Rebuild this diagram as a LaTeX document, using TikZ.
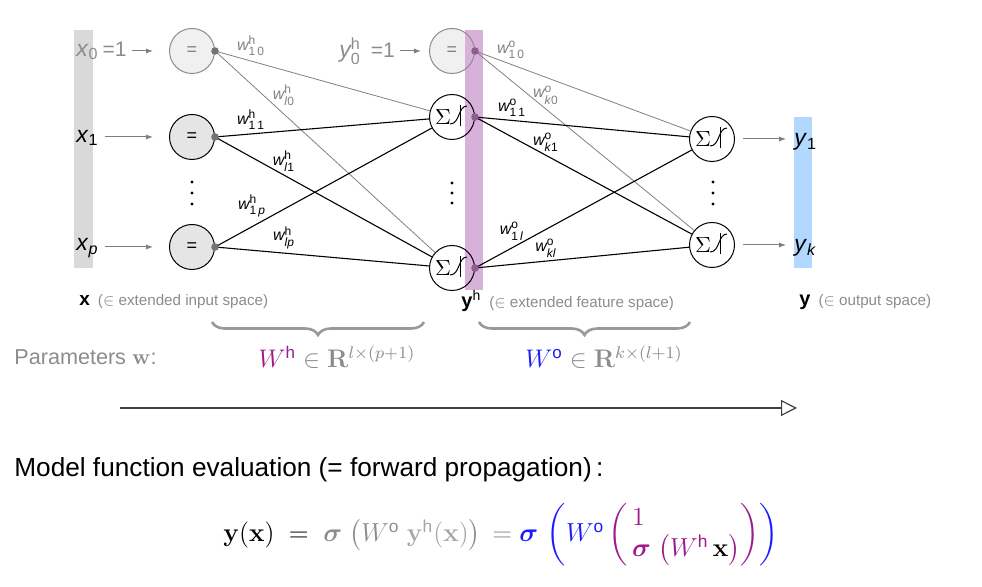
\documentclass[tikz,border=0pt]{standalone}
\usepackage{amsmath}
\usepackage{graphicx}
\usepackage[no-math]{fontspec}
\setmainfont{Liberation Sans}
\usetikzlibrary{arrows.meta,decorations.pathreplacing}
\definecolor{barg}{HTML}{D9D9D9}
\definecolor{barp}{HTML}{D8B1DA}
\definecolor{barb}{HTML}{B3D8FF}
\definecolor{txtg}{HTML}{8C8C8C}
\definecolor{hdot}{HTML}{8C5E8C}
\definecolor{mpurple}{HTML}{9C1A8C}
\definecolor{mblue}{HTML}{1A1AFF}
\newcommand\wlab[2]{$\textit{w}^{\text{\fontsize{6}{6}\selectfont #1}}_{\text{\fontsize{6}{6}\selectfont #2}}$}
\newcommand\sigsym{$\Sigma$\kern9pt}
\begin{document}
\begin{tikzpicture}[x=0.5pt,y=-0.5pt,
  inpnode/.style={circle,draw=black,line width=0.5pt,fill=black!10,minimum size=22.5pt,inner sep=0pt,font=\fontsize{9}{9}\selectfont},
  biasnode/.style={circle,draw=black!45,line width=0.5pt,fill=black!6,text=black!50,minimum size=22.5pt,inner sep=0pt,font=\fontsize{9}{9}\selectfont},
  signode/.style={circle,draw=black,line width=0.5pt,minimum size=22.5pt,inner sep=0pt,font=\fontsize{11}{11}\selectfont,
    path picture={
      \draw[line width=0.5pt] ([shift={(8,-12)}]path picture bounding box.center) -- ([shift={(8,9)}]path picture bounding box.center);
      \draw[line width=0.5pt] ([shift={(-2,7)}]path picture bounding box.center) .. controls ([shift={(8,7)}]path picture bounding box.center) and ([shift={(6,-11)}]path picture bounding box.center) .. ([shift={(15,-11)}]path picture bounding box.center);
    }},
  lab/.style={inner sep=0pt,font=\fontsize{11.5}{12}\selectfont},
  wt/.style={inner sep=0pt,font=\fontsize{8}{8}\selectfont},
  wtg/.style={wt,text=black!50},
  bedge/.style={draw=black,line width=0.55pt},
  gedge/.style={draw=black!50,line width=0.4pt},
  garrow/.style={draw=black!50,line width=0.5pt,-{Latex[length=3.5pt,width=2.6pt]}},
  brc/.style={draw=black!40,line width=1.3pt,decorate,decoration={brace,amplitude=6.5pt}},
]
\useasboundingbox (0,0) rectangle (982,587);
% bars and bias fill
\fill[barg] (74,30) rectangle (93,268);
\fill[barb] (794,117) rectangle (812,268);
\fill[black!6] (452,51) circle (11.25pt);
\fill[barp] (465,30) rectangle (483,290);
% input layer
\node[biasnode] (in0) at (192,51) {=};
\node[inpnode] (in1) at (192,137) {=};
\node[inpnode] (inp) at (192,247) {=};
\foreach \yy in {182,193,204} \fill (192,\yy) circle (0.8pt);
% hidden layer
\node[biasnode,fill=none] (h0) at (452,51) {=};
\node[signode] (h1) at (452,117) {\sigsym};
\node[signode] (hl) at (452,268) {\sigsym};
\foreach \yy in {183,193,203} \fill (452,\yy) circle (0.8pt);
% output layer
\node[signode] (o1) at (712,139) {\sigsym};
\node[signode] (ok) at (712,245) {\sigsym};
\foreach \yy in {182,193,204} \fill (713,\yy) circle (0.8pt);
% dots
\coordinate (d0) at (in0.east);
\coordinate (d1) at (in1.east);
\coordinate (dp) at (inp.east);
\coordinate (e0) at (h0.east);
\coordinate (e1) at (h1.east);
\coordinate (el) at (hl.east);
% edges input->hidden
\draw[gedge] (d0) -- (h1);
\draw[gedge] (d0) -- (hl);
\draw[bedge] (d1) -- (h1);
\draw[bedge] (d1) -- (hl);
\draw[bedge] (dp) -- (h1);
\draw[bedge] (dp) -- (hl);
% edges hidden->output
\draw[gedge] (e0) -- (o1);
\draw[gedge] (e0) -- (ok);
\draw[bedge] (e1) -- (o1);
\draw[bedge] (e1) -- (ok);
\draw[bedge] (el) -- (o1);
\draw[bedge] (el) -- (ok);
\foreach \d in {d0,d1,dp} \fill[black!55] (\d) circle (1.9pt);
\foreach \d in {e0,e1,el} \fill[hdot] (\d) circle (1.9pt);
% weight labels
\node[wtg] (w10h) at (251,46) {\wlab{h}{1\,0}};
\node[wtg] (wl0h) at (284,95) {\wlab{h}{\textit{l}0}};
\node[wt] (w11h) at (251,120) {\wlab{h}{1\,1}};
\node[wt] (wl1h) at (284,161) {\wlab{h}{\textit{l}1}};
\node[wt] (w1ph) at (252,206) {\wlab{h}{1\,\textit{p}}};
\node[wt] (wlph) at (284,238) {\wlab{h}{\textit{lp}}};
\node[wtg] (w10o) at (511,50) {\wlab{o}{1\,0}};
\node[wtg] (wk0o) at (546,95) {\wlab{o}{\textit{k}0}};
\node[wt] (w11o) at (512,108) {\wlab{o}{1\,1}};
\node[wt] (wk1o) at (546,142) {\wlab{o}{\textit{k}1}};
\node[wt] (w1lo) at (512,231) {\wlab{o}{1\,\textit{l}}};
\node[wt] (wklo) at (546,248) {\wlab{o}{\textit{kl}}};
% input labels and arrows
\node[lab,text=txtg,anchor=west] (lx0) at (76,51) {\textit{x}\textsubscript{0}\hspace{2pt}{\fontsize{10.5}{11}\selectfont=1}};
\node[lab,anchor=west] (lx1) at (76,138) {\textit{x}\textsubscript{1}};
\node[lab,anchor=west] (lxp) at (76,248) {\textit{x}\textsubscript{\textit{p}}};
\coordinate (a0s) at (132,51); \coordinate (a0e) at (153,51);
\coordinate (a1s) at (105,137); \coordinate (a1e) at (153,137);
\coordinate (aps) at (105,247); \coordinate (ape) at (153,247);
\draw[garrow] (a0s) -- (a0e);
\draw[garrow] (a1s) -- (a1e);
\draw[garrow] (aps) -- (ape);
\node[lab,text=txtg,anchor=west] (ly0) at (339,51) {$\textit{y}^{\text{h}}_{\text{0}}$\hspace{5pt}{\fontsize{10.5}{11}\selectfont=1}};
\coordinate (b0s) at (400,51); \coordinate (b0e) at (421,51);
\draw[garrow] (b0s) -- (b0e);
% output labels and arrows
\coordinate (c1s) at (743,139); \coordinate (c1e) at (786,139);
\coordinate (cks) at (743,245); \coordinate (cke) at (786,245);
\draw[garrow] (c1s) -- (c1e);
\draw[garrow] (cks) -- (cke);
\node[lab,anchor=west] (ly1) at (794,142) {\textit{y}\textsubscript{1}};
\node[lab,anchor=west] (lyk) at (794,248) {\textit{y}\textsubscript{\textit{k}}};
% space labels
\node[anchor=west,inner sep=0pt] (sx) at (79,302) {{\fontsize{9.5}{10}\selectfont\bfseries x}\hspace{4pt}{\color{txtg}\fontsize{7.6}{8}\selectfont($\in$ extended input space)}};
\node[anchor=west,inner sep=0pt] (sy) at (461,301) {{\fontsize{10}{10}\selectfont\bfseries y}$^{\fontsize{8}{8}\selectfont\text{h}}$\hspace{4pt}{\color{txtg}\fontsize{7.6}{8}\selectfont($\in$ extended feature space)}};
\node[anchor=west,inner sep=0pt] (so) at (799,302) {{\fontsize{10}{10}\selectfont\bfseries y}\hspace{4pt}{\color{txtg}\fontsize{7.6}{8}\selectfont($\in$ output space)}};
% braces
\coordinate (br1a) at (424,322); \coordinate (br1b) at (212,322);
\coordinate (br2a) at (690,322); \coordinate (br2b) at (479,322);
\draw[brc] (br1a) -- (br1b);
\draw[brc] (br2a) -- (br2b);
\node[anchor=west,inner sep=0pt,text=txtg,font=\fontsize{10.8}{12}\selectfont] (params) at (14,357) {Parameters $\mathbf{w}$:};
\node[inner sep=0pt,font=\fontsize{12}{14}\selectfont] (Wh) at (337,357) {\scalebox{1.06}{\color{txtg}$\textcolor{mpurple}{W^{\text{h}}}\in\mathbf{R}^{l\times(p+1)}$}};
\node[inner sep=0pt,font=\fontsize{12}{14}\selectfont] (Wo) at (604,357) {\scalebox{1.06}{\color{txtg}$\textcolor{mblue}{W^{\text{o}}}\in\mathbf{R}^{k\times(l+1)}$}};
% long arrow
\coordinate (ars) at (120,408); \coordinate (are) at (797,408);
\draw[draw=black!75,line width=0.6pt,-{Triangle[open,length=8pt,width=8pt]}] (ars) -- (are);
% model function
\node[anchor=west,inner sep=0pt,font=\fontsize{13.1}{15}\selectfont] (model) at (14,470) {Model function evaluation (= forward propagation)\,:};
\node[inner sep=0pt,font=\fontsize{12}{14}\selectfont] (formula) at (501,535) {\scalebox{1.085}{$\mathbf{y}(\mathbf{x})\;=\;\textcolor{txtg}{\boldsymbol{\sigma}\;\bigl(W^{\text{o}}\;\textcolor{black!35}{\mathbf{y}^{\text{h}}(\mathbf{x})}\bigr)\,=\;}\textcolor{mblue}{\boldsymbol{\sigma}\,\left(W^{\text{o}}\,\textcolor{mpurple}{\left(\begin{array}{@{\,}l@{}}1\\ \boldsymbol{\sigma}\;\bigl(W^{\text{h}}\,\textcolor{black}{\mathbf{x}}\bigr)\end{array}\right)}\right)}$}};
\end{tikzpicture}
\end{document}
